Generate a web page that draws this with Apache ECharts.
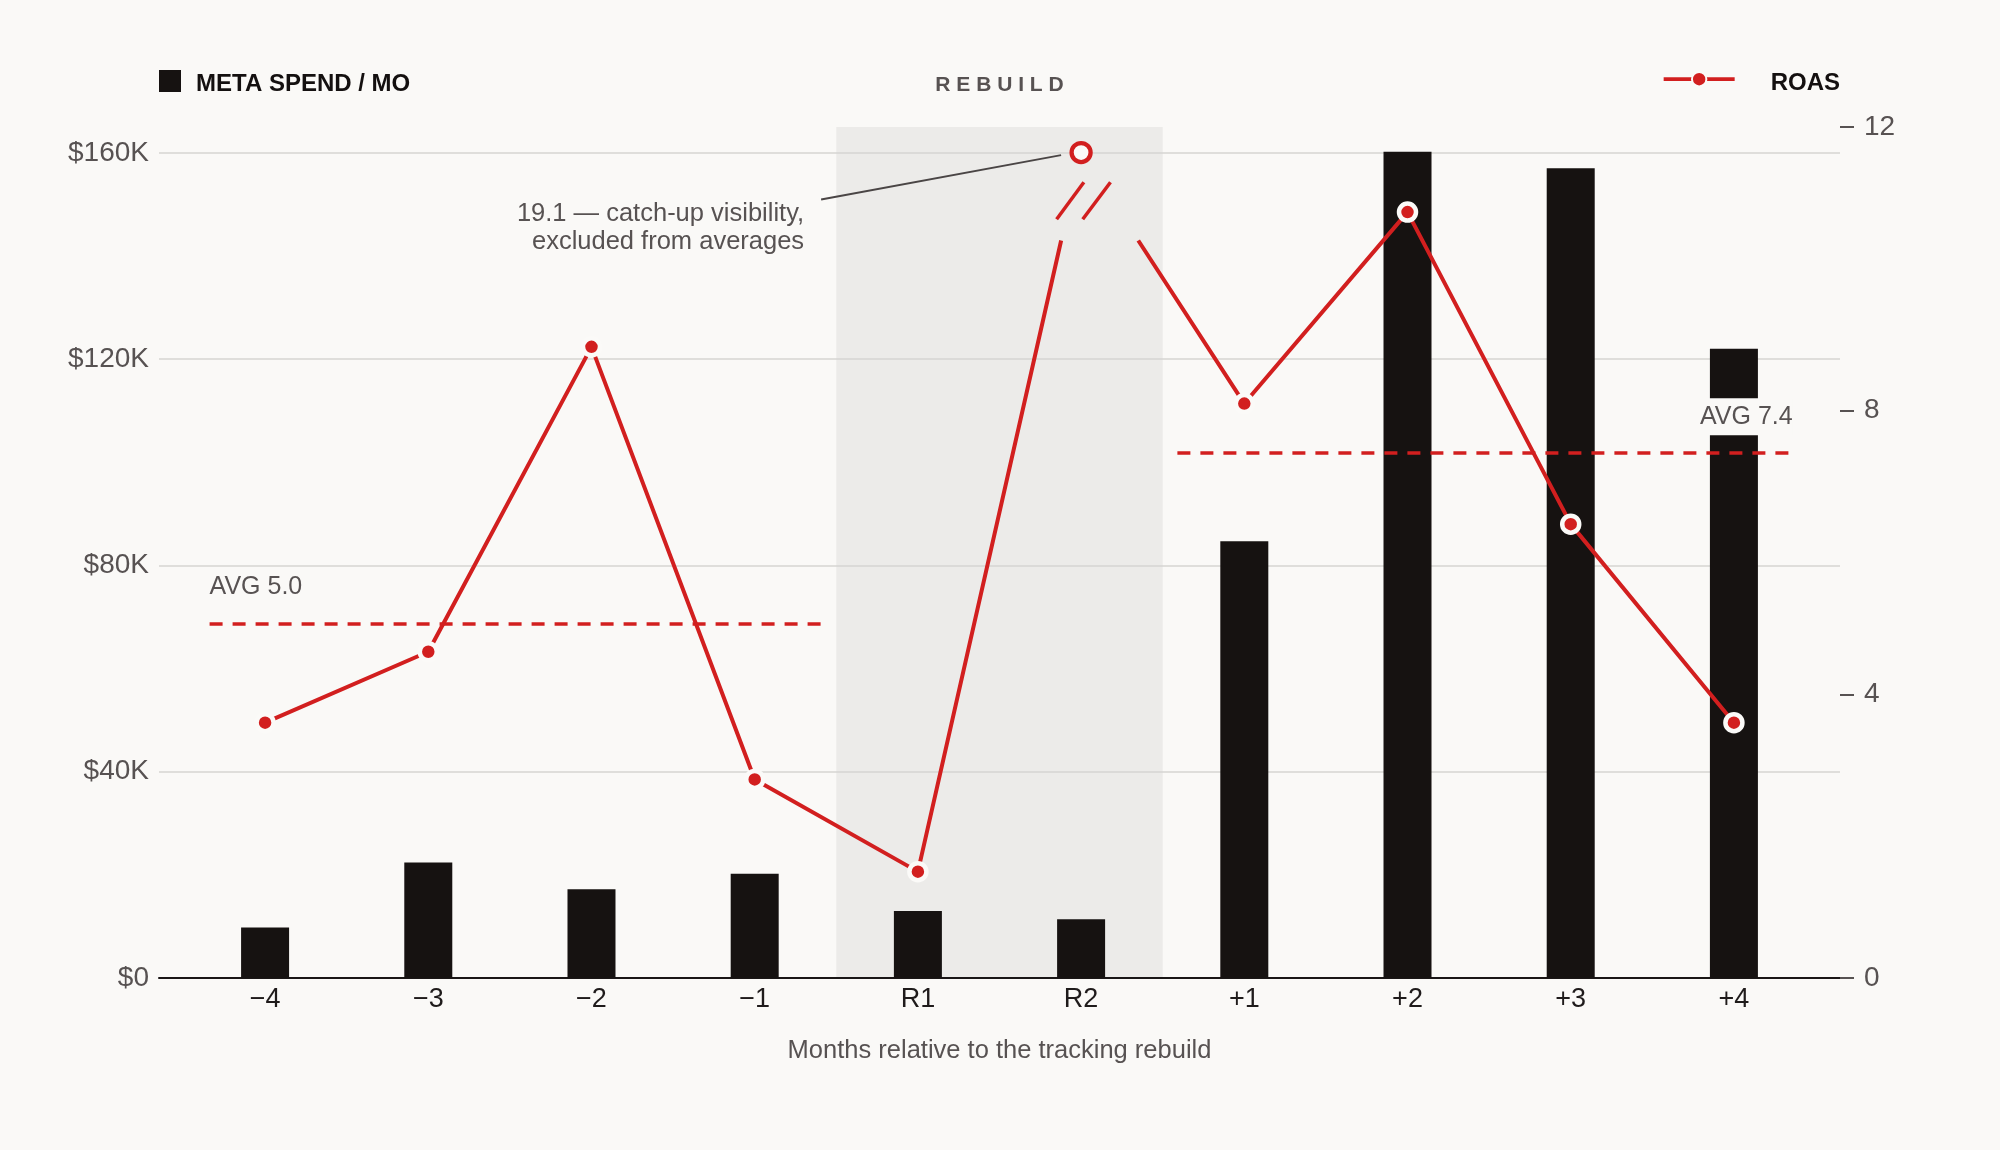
<!DOCTYPE html>
<html>
<head>
<meta charset="utf-8">
<title>Meta spend and ROAS around the tracking rebuild</title>
<script src="https://cdn.jsdelivr.net/npm/echarts@6/dist/echarts.min.js"></script>
<style>
  html, body { margin: 0; padding: 0; background: #faf9f7; }
  #chart { width: 2000px; height: 1150px; }
</style>
</head>
<body>
<div id="chart"></div>
<script>
// months relative to the rebuild
var months = ['−4', '−3', '−2', '−1', 'R1', 'R2', '+1', '+2', '+3', '+4'];
// meta spend per month ($)
var spend = [9800, 22400, 17200, 20200, 13000, 11400, 84700, 160200, 157000, 122000];
// ROAS per month, R2 is off the scale
var roas = [3.6, 4.6, 8.9, 2.8, 1.5, 19.1, 8.1, 10.8, 6.4, 3.6];
var avgBefore = 5.0;
var avgAfter = 7.4;
var spendTicks = [0, 40000, 80000, 120000, 160000];
var roasTicks = [0, 4, 8, 12];

var RED = '#d21f1f';
var INK = '#161211';
var GREY = '#575252';
var BG = '#faf9f7';
var FONT = '"Liberation Sans", Arial, Helvetica, sans-serif';

var spendMax = 165000;   // left scale top
var roasCeil = 11.64;    // where an off-scale point gets drawn
var roasCut = 10.4;      // line is broken above this

var chart = echarts.init(document.getElementById('chart'));

// line points, with a gap round the outlier
var outlier = roas.findIndex(function (v) { return v > roasTicks[roasTicks.length - 1]; });
var lineData = [];
roas.forEach(function (v, i) {
  if (i === outlier) {
    var prev = roas[i - 1], next = roas[i + 1];
    lineData.push({ value: [i - 1 + (roasCut - prev) / (roasCeil - prev), roasCut], symbol: 'none' });
    lineData.push([i, '-']);
    lineData.push({ value: [i + (roasCeil - roasCut) / (roasCeil - next), roasCut], symbol: 'none' });
  } else {
    lineData.push([i, v]);
  }
});

var breakStyle = { type: 'solid', color: RED, width: 3.5 };
var avgLabel = {
  show: true, fontSize: 25, color: GREY, fontFamily: FONT,
  backgroundColor: BG, padding: [6, 0], distance: [0, 18]
};

// legend text sits a little below the icon
function legendText(lineHeight, gap) {
  return {
    padding: [0, 0, 0, gap],
    rich: {
      t: { fontSize: 24, fontWeight: 'bold', color: '#141010', fontFamily: FONT, lineHeight: lineHeight, verticalAlign: 'bottom' }
    }
  };
}

var option = {
  backgroundColor: BG,
  animation: false,
  textStyle: { fontFamily: FONT },
  legend: [
    {
      data: [{ name: 'META SPEND / MO', icon: 'rect' }],
      formatter: '{t|{name}}',
      left: 159, top: 70, padding: 0, itemWidth: 22, itemHeight: 22, selectedMode: false,
      textStyle: legendText(30, 10)
    },
    {
      data: ['ROAS'],
      formatter: '{t|{name}}',
      right: 160, top: 71, padding: 0, itemWidth: 71, itemHeight: 18, selectedMode: false,
      lineStyle: { width: 3.8 },
      textStyle: legendText(33, 31)
    }
  ],
  grid: { left: 159, right: 160, top: 127, bottom: 172 },
  xAxis: {
    type: 'value', min: -0.65, max: 9.65,
    name: 'Months relative to the tracking rebuild',
    nameLocation: 'middle', nameGap: 60,
    nameTextStyle: { fontSize: 25.5, color: GREY, fontFamily: FONT },
    axisLine: { show: true, onZero: false, lineStyle: { color: '#1a1616', width: 2 } },
    axisTick: { show: false },
    splitLine: { show: false },
    axisLabel: {
      customValues: months.map(function (m, i) { return i; }),
      formatter: function (v) { return months[v]; },
      fontSize: 27, color: '#1f1b1b', margin: 8, fontFamily: FONT
    }
  },
  yAxis: [
    {
      type: 'value', position: 'left', min: 0, max: spendMax, interval: spendTicks[1],
      axisLine: { show: false }, axisTick: { show: false },
      axisLabel: {
        showMaxLabel: false, fontSize: 28, color: GREY, margin: 10, fontFamily: FONT,
        formatter: function (v) { return v === 0 ? '$0' : '$' + (v / 1000) + 'K'; }
      },
      splitLine: {
        show: true, showMaxLine: false,
        lineStyle: { color: ['#d6d4d2', '#d6d4d2', '#d6d4d2', '#d6d4d2', '#d6d4d2', 'rgba(0,0,0,0)'], width: 1.5 }
      }
    },
    {
      type: 'value', position: 'right', min: 0, max: roasTicks[roasTicks.length - 1], interval: roasTicks[1],
      axisLine: { show: false },
      axisTick: { show: true, length: 14, lineStyle: { color: GREY, width: 2 } },
      axisLabel: { fontSize: 28, color: GREY, margin: 24, fontFamily: FONT },
      splitLine: { show: false }
    }
  ],
  series: [
    {
      name: 'META SPEND / MO', type: 'bar', yAxisIndex: 0, barWidth: 48,
      itemStyle: { color: INK },
      data: spend.map(function (v, i) { return [i, v]; }),
      markArea: {
        silent: true, z: -1,
        itemStyle: { color: '#ecebe9' },
        label: {
          show: true, position: 'top', distance: 31, formatter: 'R E B U I L D',
          fontSize: 21, fontWeight: 'bold', color: GREY, fontFamily: FONT
        },
        data: [[{ xAxis: 3.5 }, { xAxis: 5.5 }]]
      }
    },
    {
      name: 'ROAS', type: 'line', yAxisIndex: 1,
      data: lineData,
      symbol: 'circle', symbolSize: 17, showAllSymbol: true,
      lineStyle: { color: RED, width: 4 },
      itemStyle: { color: RED, borderColor: '#fbfaf8', borderWidth: 4.5 },
      markLine: {
        silent: true, symbol: 'none', z: 5,
        lineStyle: { color: RED, type: [13, 10], width: 3.5 },
        label: { show: false },
        data: [
          [{ coord: [-0.34, avgBefore], label: Object.assign({}, avgLabel, { position: 'insideStartTop', formatter: 'AVG ' + avgBefore.toFixed(1) }) },
           { coord: [3.43, avgBefore] }],
          [{ coord: [5.59, avgAfter], label: Object.assign({}, avgLabel, { position: 'insideEndTop', formatter: 'AVG ' + avgAfter.toFixed(1) }) },
           { coord: [9.36, avgAfter] }],
          // break marks under the off-scale point
          [{ coord: [outlier - 0.15, 10.7], lineStyle: breakStyle }, { coord: [outlier + 0.017, 11.22] }],
          [{ coord: [outlier + 0.01, 10.7], lineStyle: breakStyle }, { coord: [outlier + 0.18, 11.22] }]
        ]
      },
      markPoint: {
        silent: true, symbol: 'circle', symbolSize: 19,
        itemStyle: { color: '#fbfaf8', borderColor: RED, borderWidth: 4.3 },
        label: { show: false },
        data: [{ coord: [outlier, roasCeil] }]
      }
    }
  ]
};

chart.setOption(option);

// note for the off-scale point
var p = chart.convertToPixel({ seriesIndex: 1 }, [outlier, roasCeil]);
chart.setOption({
  graphic: [
    {
      type: 'line', silent: true,
      shape: { x1: p[0] - 260, y1: p[1] + 47, x2: p[0] - 20, y2: p[1] + 2.6 },
      style: { stroke: '#4a4545', lineWidth: 2 }
    },
    {
      type: 'text', silent: true, x: p[0] - 277, y: p[1] + 75.5,
      style: {
        text: roas[outlier].toFixed(1) + ' — catch-up visibility,\nexcluded from averages',
        align: 'right', verticalAlign: 'middle', lineHeight: 28,
        fontSize: 25.5, fill: GREY, fontFamily: FONT
      }
    }
  ]
});
</script>
</body>
</html>
